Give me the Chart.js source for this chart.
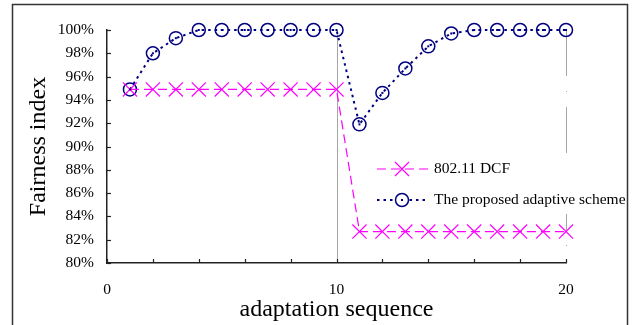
<!DOCTYPE html>
<html lang="en">

<head>
    <meta charset="UTF-8">
    <title>Fairness index</title>
    <script src="https://cdn.jsdelivr.net/npm/chart.js@4.4.0/dist/chart.umd.min.js"></script>
    <style>
        html, body {
            margin: 0;
            padding: 0;
            background: #fff;
        }

        .chart-box {
            width: 633px;
            height: 325px;
        }
    </style>
</head>

<body>
    <div class="chart-box">
        <canvas id="fairness-chart" width="633" height="325"></canvas>
    </div>

    <script>
        // adaptation sequence (x values)
        const seq = [1, 2, 3, 4, 5, 6, 7, 8, 9, 10, 11, 12, 13, 14, 15, 16, 17, 18, 19, 20];
        // fairness index in %
        const dcf = [94.9, 94.9, 94.9, 94.9, 94.9, 94.9, 94.9, 94.9, 94.9, 94.9,
            82.7, 82.7, 82.7, 82.7, 82.7, 82.7, 82.7, 82.7, 82.7, 82.7];
        const proposed = [94.9, 98.0, 99.3, 100, 100, 100, 100, 100, 100, 100,
            91.9, 94.6, 96.7, 98.6, 99.7, 100, 100, 100, 100, 100];
        const seriesNames = ['802.11 DCF', 'The proposed adaptive scheme'];
        const xTickLabels = [0, 10, 20];
        const dropLineX = [10, 20];

        const serif = "'Liberation Serif', 'Times New Roman', serif";
        const magenta = '#ff00ff';
        const navy = '#000080';

        // gray drop lines, inward tick marks, legend, frame
        const decorations = {
            id: 'decorations',
            beforeDatasetsDraw(chart) {
                const ctx = chart.ctx;
                const xs = chart.scales.x, ys = chart.scales.y;
                ctx.save();
                ctx.strokeStyle = '#a6a6a6';
                ctx.lineWidth = 1;
                dropLineX.forEach((v, i) => {
                    const px = Math.round(xs.getPixelForValue(v)) + 0.5;
                    ctx.setLineDash(i === 0 ? [] : [46, 15, 1, 15]);
                    ctx.beginPath();
                    ctx.moveTo(px, ys.getPixelForValue(100));
                    ctx.lineTo(px, ys.getPixelForValue(80));
                    ctx.stroke();
                });
                ctx.setLineDash([]);
                ctx.strokeStyle = '#222';
                ctx.lineWidth = 1.2;
                const left = chart.chartArea.left, bottom = chart.chartArea.bottom;
                for (let v = 80; v <= 100; v += 2) {
                    const py = Math.round(ys.getPixelForValue(v)) + 0.5;
                    ctx.beginPath();
                    ctx.moveTo(left, py);
                    ctx.lineTo(left + 4, py);
                    ctx.stroke();
                }
                for (let v = 0; v <= 20; v += 2) {
                    const px = Math.round(xs.getPixelForValue(v)) + 0.5;
                    ctx.beginPath();
                    ctx.moveTo(px, bottom);
                    ctx.lineTo(px, bottom - 4);
                    ctx.stroke();
                }
                ctx.restore();
            },
            afterDatasetsDraw(chart) {
                const ctx = chart.ctx;
                ctx.save();
                // dot in the middle of the circle markers
                ctx.fillStyle = navy;
                chart.getDatasetMeta(1).data.forEach(pt => {
                    ctx.fillRect(pt.x - 1, pt.y - 1, 2, 2);
                });

                // legend box
                const lx = 377, ly = [169, 200];
                ctx.fillStyle = '#fff';
                ctx.fillRect(372, 155, 254, 59);

                ctx.lineWidth = 1.2;
                ctx.strokeStyle = magenta;
                ctx.setLineDash([9, 5]);
                ctx.beginPath();
                ctx.moveTo(lx, ly[0]);
                ctx.lineTo(lx + 51, ly[0]);
                ctx.stroke();
                ctx.setLineDash([]);
                ctx.beginPath();
                ctx.moveTo(lx + 25 - 7, ly[0] - 7);
                ctx.lineTo(lx + 25 + 7, ly[0] + 7);
                ctx.moveTo(lx + 25 - 7, ly[0] + 7);
                ctx.lineTo(lx + 25 + 7, ly[0] - 7);
                ctx.stroke();

                ctx.strokeStyle = navy;
                ctx.lineWidth = 2;
                ctx.setLineDash([2.5, 4]);
                ctx.beginPath();
                ctx.moveTo(lx, ly[1]);
                ctx.lineTo(lx + 51, ly[1]);
                ctx.stroke();
                ctx.setLineDash([]);
                ctx.lineWidth = 1.5;
                ctx.fillStyle = '#fff';
                ctx.beginPath();
                ctx.arc(lx + 25, ly[1], 6.5, 0, Math.PI * 2);
                ctx.fill();
                ctx.stroke();
                ctx.fillStyle = navy;
                ctx.fillRect(lx + 24, ly[1] - 1, 2, 2);

                ctx.fillStyle = '#000';
                ctx.font = '15.5px ' + serif;
                ctx.textBaseline = 'middle';
                ctx.textAlign = 'left';
                ctx.fillText(seriesNames[0], 434, ly[0]);
                ctx.fillText(seriesNames[1], 434, ly[1]);

                // outer frame
                ctx.strokeStyle = '#333';
                ctx.lineWidth = 1.5;
                ctx.strokeRect(12.5, 4.5, 615, 330);
                ctx.restore();
            }
        };

        new Chart(document.getElementById('fairness-chart'), {
            type: 'line',
            data: {
                datasets: [
                    {
                        label: seriesNames[0],
                        data: seq.map((x, i) => ({ x: x, y: dcf[i] })),
                        borderColor: magenta,
                        borderWidth: 1.2,
                        borderDash: [9, 5],
                        pointStyle: 'crossRot',
                        pointRadius: 10,
                        pointBorderWidth: 1.2,
                        pointBorderColor: magenta,
                        tension: 0,
                        clip: false,
                    },
                    {
                        label: seriesNames[1],
                        data: seq.map((x, i) => ({ x: x, y: proposed[i] })),
                        borderColor: navy,
                        borderWidth: 2,
                        borderDash: [2.5, 4],
                        pointStyle: 'circle',
                        pointRadius: 6.5,
                        pointBorderWidth: 1.5,
                        pointBorderColor: navy,
                        pointBackgroundColor: 'rgba(0,0,0,0)',
                        tension: 0,
                        clip: false,
                    },
                ],
            },
            options: {
                responsive: false,
                animation: false,
                layout: { padding: { left: 24, top: 30, right: 67, bottom: 0 } },
                plugins: {
                    legend: { display: false },
                    tooltip: { enabled: false },
                },
                scales: {
                    x: {
                        type: 'linear',
                        min: 0,
                        max: 20,
                        afterFit(scale) { scale.height = 62; },
                        grid: { drawOnChartArea: false, drawTicks: false },
                        border: { display: true, color: '#222', width: 1.5 },
                        ticks: {
                            stepSize: 2,
                            autoSkip: false,
                            maxRotation: 0,
                            padding: 18,
                            color: '#000',
                            font: { family: serif, size: 15.5 },
                            callback: v => xTickLabels.includes(v) ? String(v) : '',
                        },
                        title: {
                            display: true,
                            text: 'adaptation sequence',
                            color: '#000',
                            font: { family: serif, size: 24 },
                            padding: { top: 0, bottom: 1 },
                        },
                    },
                    y: {
                        min: 80,
                        max: 100,
                        afterFit(scale) { scale.width = 83; },
                        grid: { drawOnChartArea: false, drawTicks: false },
                        border: { display: true, color: '#222', width: 1.5 },
                        ticks: {
                            stepSize: 2,
                            padding: 13,
                            color: '#000',
                            font: { family: serif, size: 15.5 },
                            callback: v => v + '%',
                        },
                        title: {
                            display: true,
                            text: 'Fairness index',
                            color: '#000',
                            font: { family: serif, size: 24 },
                            padding: { top: 0, bottom: 0 },
                        },
                    },
                },
            },
            plugins: [decorations],
        });
    </script>
</body>

</html>
